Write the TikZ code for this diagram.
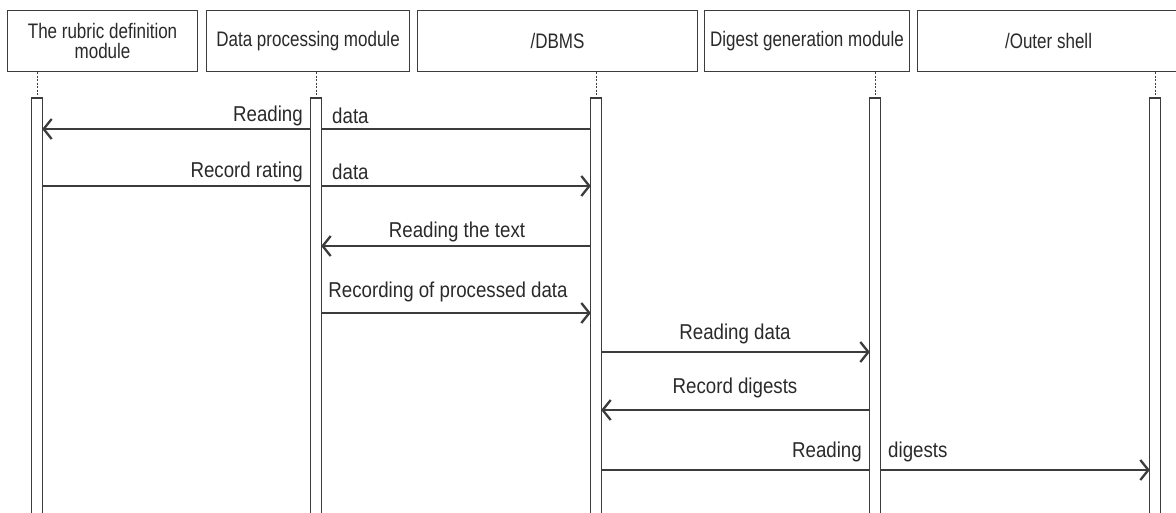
\documentclass[tikz,border=0pt]{standalone}
\usepackage{fontspec}
\setmainfont{Liberation Sans}
\newfontfamily\boxfont{Liberation Sans}[FakeStretch=0.81]
\newfontfamily\lblfont{Liberation Sans}[FakeStretch=0.87]
\usetikzlibrary{arrows.meta}
\definecolor{ln}{HTML}{3C3C3C}
\definecolor{tx}{HTML}{2A2A2A}
\tikzset{
  modbox/.style={draw=ln, line width=1.1pt, minimum height=61pt, inner sep=0pt, align=center, anchor=north west, text=tx, font=\boxfont\fontsize{21}{21}\selectfont},
  barnode/.style={minimum width=10pt, minimum height=416pt, inner sep=0pt, anchor=north},
  barline/.style={draw=ln, line width=1.1pt},
  life/.style={draw=ln, line width=1pt, dash pattern=on 2pt off 1.5pt},
  msg/.style={draw=ln, line width=1.3pt, -{Straight Barb[length=8pt,width=20pt,line width=2.3pt]}},
  lbl/.style={inner sep=0pt, text=tx, font=\lblfont\fontsize{21.5}{22}\selectfont}
}
\begin{document}
\begin{tikzpicture}[x=1pt,y=-1pt]
\useasboundingbox (0,0) rectangle (1176,512);
\fill[white] (0,0) rectangle (1176,512);
% modules
\node[modbox, minimum width=190pt] (m1) at (7,10) {The rubric definition\\[-1.5pt]module};
\node[modbox, minimum width=203pt] (m2) at (206,10) {Data processing module};
\node[modbox, minimum width=280pt] (m3) at (417,10) {/DBMS};
\node[modbox, minimum width=205pt] (m4) at (704,10) {Digest generation module};
\node[modbox, minimum width=262pt] (m5) at (917,10) {/Outer shell};
% activation bars
\node[barnode] (b1) at (37,98) {};
\node[barnode] (b2) at (316,98) {};
\node[barnode] (b3) at (596,98) {};
\node[barnode] (b4) at (875,98) {};
\node[barnode] (b5) at (1155,98) {};
% lifelines
\foreach \i in {1,...,5}{
  \draw[life] (m\i.south -| b\i.north) -- (b\i.north);
}
% messages
\draw[msg] (b3.west |- 0,129) -- (b1.east |- 0,129);
\draw[msg] (b1.east |- 0,186) -- (b3.west |- 0,186);
\draw[msg] (b3.west |- 0,246) -- (b2.east |- 0,246);
\draw[msg] (b2.east |- 0,313) -- (b3.west |- 0,313);
\draw[msg] (b3.east |- 0,352) -- (b4.west |- 0,352);
\draw[msg] (b4.west |- 0,410) -- (b3.east |- 0,410);
\draw[msg] (b3.east |- 0,470) -- (b5.west |- 0,470);
% bars drawn on top
\foreach \i in {1,...,5}{
  \fill[white] (b\i.south west) rectangle (b\i.north east);
  \draw[barline] (b\i.south west) -- (b\i.north west) -- (b\i.north east) -- (b\i.south east);
}
% labels
\node[lbl, anchor=east] (l1a) at (303,116) {Reading};
\node[lbl, anchor=west] (l1b) at (332,116) {data};
\node[lbl, anchor=east] (l2a) at (303,172) {Record rating};
\node[lbl, anchor=west] (l2b) at (332,172) {data};
\node[lbl] (l3) at (457,232) {Reading the text};
\node[lbl] (l4) at (448,292) {Recording of processed data};
\node[lbl] (l5) at (735,334) {Reading data};
\node[lbl] (l6) at (735,388) {Record digests};
\node[lbl, anchor=east] (l7a) at (862,452) {Reading};
\node[lbl, anchor=west] (l7b) at (888,452) {digests};
\end{tikzpicture}
\end{document}
